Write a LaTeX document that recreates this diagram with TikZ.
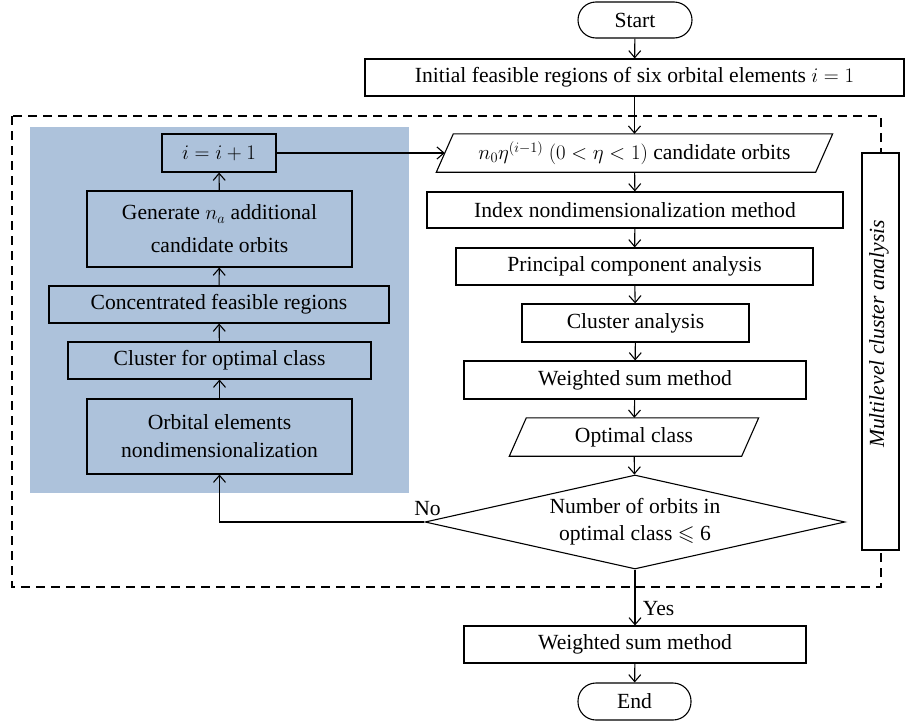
\documentclass[tikz,border=0pt]{standalone}
\usepackage{amssymb}
\usepackage{fontspec}
\setmainfont{Liberation Serif}
\usetikzlibrary{arrows.meta,shapes.geometric,calc}
\definecolor{bluebg}{HTML}{ADC2DB}
\begin{document}
\begin{tikzpicture}[x=1pt,y=-1pt,
  font=\fontsize{21.6}{27}\selectfont,
  box/.style={draw, line width=1.1pt, inner sep=0pt, align=center},
  ptext/.style={inner sep=0pt, align=center},
  lin/.style={line width=1.1pt, line join=miter},
  arr/.style={line width=1.1pt, -{Straight Barb[length=7pt,width=12pt]}},
  term/.style={box, rounded corners=18pt}]
\useasboundingbox (0,0) rectangle (906,723);
% backgrounds
\fill[bluebg] (30,127) rectangle (409,493);
\draw[line width=1.1pt, dash pattern=on 9pt off 6pt] (12,116) rectangle (881,587);

% main column
\node[term, minimum width=114, minimum height=36] (start) at (635,20) {Start};
\node[box, minimum width=539, minimum height=37] (init) at (634.5,77.5) {Initial feasible regions of six orbital elements $i=1$};
\node[ptext, minimum width=379, minimum height=38] (cand) at (634.5,153) {$n_0\eta^{(i-1)}$ $(0<\eta<1)$ candidate orbits};
\draw[lin] ([xshift=8.5pt]cand.north west) -- ([xshift=8.5pt]cand.north east) -- ([xshift=-8.5pt]cand.south east) -- ([xshift=-8.5pt]cand.south west) -- cycle;
\node[box, minimum width=416, minimum height=36] (index) at (635,210) {Index nondimensionalization method};
\node[box, minimum width=357, minimum height=37] (pca) at (634.5,266.5) {Principal component analysis};
\node[box, minimum width=227, minimum height=38] (clan) at (635.5,323) {Cluster analysis};
\node[box, minimum width=342, minimum height=38] (wsm) at (635,380) {Weighted sum method};
\node[ptext, minimum width=232, minimum height=38] (opt) at (634,437) {Optimal class};
\draw[lin] ([xshift=8.5pt]opt.north west) -- ([xshift=8.5pt]opt.north east) -- ([xshift=-8.5pt]opt.south east) -- ([xshift=-8.5pt]opt.south west) -- cycle;
\node[box, diamond, aspect=4.47, minimum width=420, minimum height=94] (dec) at (635,522) {Number of orbits in\\optimal class $\leqslant$ 6};
\node[box, minimum width=342, minimum height=37] (wsm2) at (635,644.5) {Weighted sum method};
\node[term, minimum width=113, minimum height=37] (end) at (634.5,701.5) {End};

% left column
\node[box, minimum width=114, minimum height=38] (inc) at (219,153) {$i = i + 1$};
\node[box, minimum width=265, minimum height=76] (gen) at (219.5,229) {Generate $n_a$ additional\\[6pt]candidate orbits};
\node[box, minimum width=340, minimum height=37] (conc) at (219,304.5) {Concentrated feasible regions};
\node[box, minimum width=303, minimum height=37] (clo) at (219.5,360.5) {Cluster for optimal class};
\node[box, minimum width=265, minimum height=75] (orb) at (219.5,436.5) {Orbital elements\\[1pt]nondimensionalization};

% side label
\node[box, fill=white, minimum width=37, minimum height=397] (multi) at (880.5,351.5) {};
\node[ptext, rotate=90] (multitext) at (879,334) {\itshape Multilevel cluster analysis};

% connectors
\draw[arr] (start) -- (init);
\draw[arr] (init) -- (cand);
\draw[arr] (inc) -- (cand.west);
\draw[arr] (cand) -- (index);
\draw[arr] (index) -- (pca);
\draw[arr] (pca) -- (clan);
\draw[arr] (clan) -- (wsm);
\draw[arr] (wsm) -- (opt);
\draw[arr] (opt) -- (dec);
\draw[arr] (dec.west) -| node[pos=0, anchor=south, xshift=3pt, yshift=6pt, inner sep=0pt] (no) {No} (orb.south);
\draw[arr] (orb) -- (clo);
\draw[arr] (clo) -- (conc);
\draw[arr] (conc) -- (gen);
\draw[arr] (gen) -- (inc);
\draw[arr] (dec.south) -- node[pos=0.7, right, xshift=4pt] (yes) {Yes} (wsm2);
\draw[arr] (wsm2) -- (end);
\end{tikzpicture}
\end{document}
